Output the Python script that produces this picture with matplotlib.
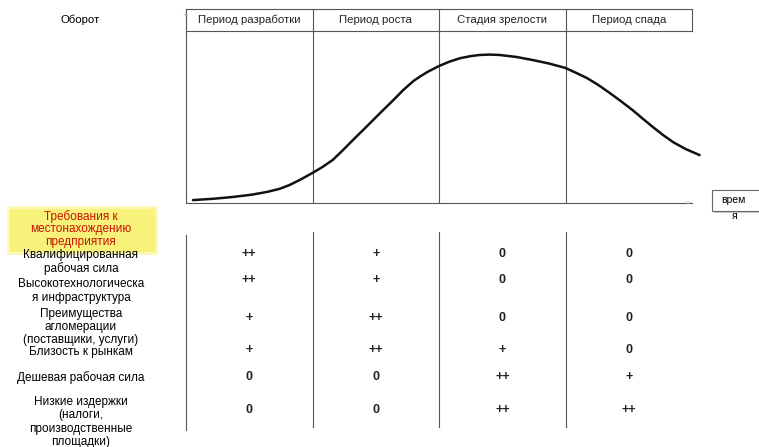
import matplotlib.pyplot as plt
from matplotlib.patches import Rectangle

plt.rcParams['font.family'] = ['Liberation Sans', 'DejaVu Sans']

# stages of the life cycle
stages = ['Период разработки', 'Период роста', 'Стадия зрелости', 'Период спада']

# turnover curve (time in stage units, turnover in %)
curve_t = [0.055, 0.22, 0.37, 0.52, 0.64, 0.74, 0.82, 0.90, 1.0, 1.08, 1.16,
           1.24, 1.32, 1.40, 1.48, 1.56, 1.64, 1.72, 1.80, 1.86, 1.91, 2.0,
           2.08, 2.17, 2.25, 2.32, 2.40, 2.48, 2.61, 2.74, 2.87, 3.0, 3.08,
           3.17, 3.26, 3.35, 3.44, 3.53, 3.61, 3.69, 3.77, 3.85, 3.95, 4.06]
curve_v = [1.5, 2.2, 3.1, 4.3, 5.7, 7.3, 9.3, 11.9, 15.5, 18.6, 22.2,
           27.2, 32.5, 37.6, 42.8, 48.0, 53.1, 58.4, 63.0, 65.6, 67.6, 70.6,
           72.8, 74.7, 75.7, 76.3, 76.5, 76.3, 75.3, 73.7, 71.9, 69.6, 67.2,
           64.4, 60.8, 56.7, 52.4, 47.9, 43.5, 39.2, 35.1, 31.4, 27.8, 24.7]

# location requirements and their importance per stage
factors = ['Квалифицированная\nрабочая сила',
           'Высокотехнологическа\nя инфраструктура',
           'Преимущества\nагломерации\n(поставщики, услуги)',
           'Близость к рынкам',
           'Дешевая рабочая сила',
           'Низкие издержки\n(налоги,\nпроизводственные\nплощадки)']
marks = [['++', '+', '0', '0'],
         ['++', '+', '0', '0'],
         ['+', '++', '0', '0'],
         ['+', '++', '+', '0'],
         ['0', '0', '++', '+'],
         ['0', '0', '++', '++']]

W, H = 759, 447
fig = plt.figure(figsize=(W / 100, H / 100), dpi=100)

def fx(px):
    return px / W

def fy(py):
    return 1 - py / H

# full-figure overlay in pixel coordinates for the frame and labels
ov = fig.add_axes([0, 0, 1, 1])
ov.set_xlim(0, W)
ov.set_ylim(H, 0)
ov.axis('off')

x0, x1 = 186, 692
y_top, y_head, y_bot = 9, 31, 203
colw = (x1 - x0) / 4

# top panel: life cycle curve
ax = fig.add_axes([fx(x0), fy(y_bot), fx(x1) - fx(x0), fy(y_top) - fy(y_bot)])
ax.set_xlim(0, 4)
ax.set_ylim(0, 100)
ax.axis('off')
ax.plot(curve_t, curve_v, color='#111111', lw=1.8, clip_on=False,
        solid_capstyle='round', solid_joinstyle='round')

lc = '#555555'
ov.plot([x0, x1], [y_top, y_top], color=lc, lw=0.8)
ov.plot([x0, x1], [y_head, y_head], color=lc, lw=0.8)
ov.plot([x1, x1], [y_top, y_head], color=lc, lw=0.8)
ov.plot([x0, x0], [y_top, y_bot], color=lc, lw=0.8)
ov.plot([x0, x1], [y_bot, y_bot], color=lc, lw=0.8)
ov.text(x1 - 4, y_bot + 0.5, '>', color='#bbbbbb', fontsize=6, ha='center', va='center')
ov.text(x0 - 1, y_top + 6, '+', color='#aaaaaa', fontsize=7, ha='center', va='center')
for i in range(1, 4):
    ov.plot([x0 + i * colw] * 2, [y_top, y_bot], color=lc, lw=0.8)
for i, s in enumerate(stages):
    ov.text(x0 + (i + 0.5) * colw, 20, s, fontsize=8.2, ha='center', va='center',
            color='#222222')

ov.text(80, 20, 'Оборот', fontsize=8.2, ha='center', va='center')

# time label box
ov.add_patch(Rectangle((714, 192), 50, 21, facecolor='#cccccc', edgecolor='none'))
ov.add_patch(Rectangle((712, 190), 50, 21, facecolor='white', edgecolor='#666666', lw=0.8))
ov.text(733, 200, 'врем', fontsize=7.5, ha='center', va='center')
ov.text(735, 216, 'я', fontsize=7.5, ha='center', va='center')

# yellow header for the requirements
ov.add_patch(Rectangle((8, 207), 148, 46, facecolor='#f7f27a', edgecolor='#fbf8b8', lw=2))
ov.text(81, 229, 'Требования к\nместонахождению\nпредприятия', fontsize=8.5,
        ha='center', va='center', color='#cc1100', linespacing=1.1)

# bottom table
row_y = [254, 280, 318, 350, 377, 410]
label_y = [262, 291, 327, 352, 378, 422]
for f, ly in zip(factors, label_y):
    ov.text(81, ly, f, fontsize=8.5, ha='center', va='center', linespacing=1.12)
for r, ry in zip(marks, row_y):
    for i, m in enumerate(r):
        ov.text(x0 + (i + 0.5) * colw, ry, m, fontsize=9, ha='center', va='center',
                fontweight='bold', color='#222222')
ov.plot([x0, x0], [235, 430], color=lc, lw=0.8)
for i in range(1, 4):
    ov.plot([x0 + i * colw] * 2, [232, 427], color=lc, lw=0.8)

fig.savefig('out.png', dpi=100)
